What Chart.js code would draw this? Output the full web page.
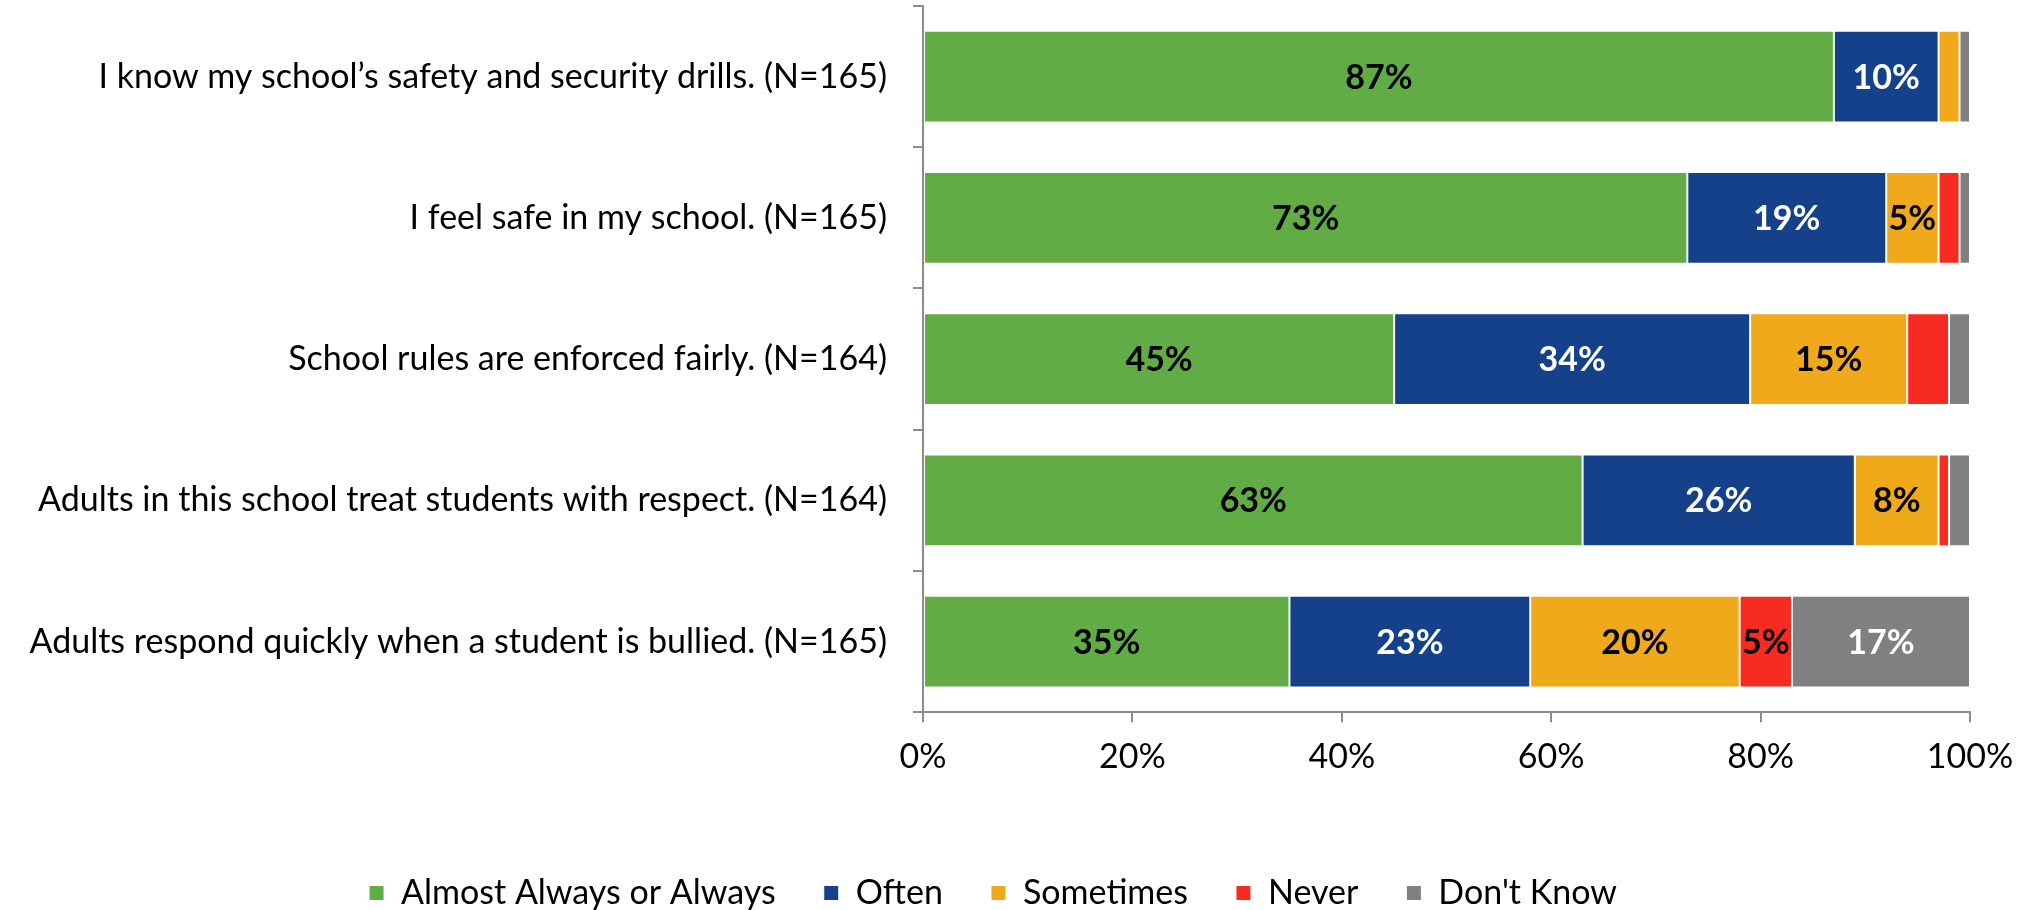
<!DOCTYPE html>
<html>
<head>
<meta charset="utf-8">
<title>School safety survey</title>
<script src="https://cdn.jsdelivr.net/npm/chart.js@4/dist/chart.umd.min.js"></script>
<style>
    html, body { margin: 0; padding: 0; background: #ffffff; }
    #chartWrap { width: 2030px; height: 910px; }
</style>
</head>
<body>
<div id="chartWrap">
    <canvas id="safetyChart" width="2030" height="910"></canvas>
</div>
<script>
const statements = [
    'I know my school\u2019s safety and security drills. (N=165)',
    'I feel safe in my school. (N=165)',
    'School rules are enforced fairly. (N=164)',
    'Adults in this school treat students with respect. (N=164)',
    'Adults respond quickly when a student is bullied. (N=165)'
];
const responseNames = ['Almost Always or Always', 'Often', 'Sometimes', 'Never', 'Don\'t Know'];
const almostAlways = [87, 73, 45, 63, 35];
const often = [10, 19, 34, 26, 23];
const sometimes = [2, 5, 15, 8, 20];
const never = [0, 2, 4, 1, 5];
const dontKnow = [1, 1, 2, 2, 17];
const percentTicks = [0, 20, 40, 60, 80, 100];

const fillColors = ['#62ac46', '#14418a', '#f1a91c', '#f72b21', '#808080'];
const labelColors = ['#000000', '#ffffff', '#000000', '#000000', '#ffffff'];
const seriesValues = [almostAlways, often, sometimes, never, dontKnow];

const FONT = "Lato, 'Open Sans', sans-serif";
const TEXT_SIZE = 34;
const AXIS_GREY = '#8c8c8c';
const PAD_LEFT = 16;
const PLOT_LEFT = 923;
const AXIS_GAP_BELOW = 37; // empty band between the % ticks and the legend

// writes the percentage in the middle of every segment that is wide enough
const segmentLabels = {
    id: 'segmentLabels',
    afterDatasetsDraw(chart) {
        const ctx = chart.ctx;
        ctx.save();
        ctx.font = 'bold ' + TEXT_SIZE + 'px ' + FONT;
        ctx.textAlign = 'center';
        ctx.textBaseline = 'middle';
        chart.data.datasets.forEach(function (ds, di) {
            const meta = chart.getDatasetMeta(di);
            meta.data.forEach(function (bar, i) {
                const v = ds.data[i];
                if (v < 5) {
                    return;
                }
                ctx.fillStyle = labelColors[di];
                ctx.fillText(v + '%', (bar.x + bar.base) / 2, bar.y + 1);
            });
        });
        ctx.restore();
    }
};

Chart.defaults.font.family = FONT;
Chart.defaults.color = '#000000';

new Chart(document.getElementById('safetyChart'), {
    type: 'bar',
    data: {
        labels: statements,
        datasets: responseNames.map(function (name, i) {
            return {
                label: name,
                data: seriesValues[i],
                backgroundColor: fillColors[i],
                borderColor: '#ffffff',
                borderWidth: 1,
                borderSkipped: false,
                categoryPercentage: 1,
                barPercentage: 0.65
            };
        })
    },
    plugins: [segmentLabels],
    options: {
        responsive: false,
        animation: false,
        devicePixelRatio: 1,
        indexAxis: 'y',
        layout: {
            // the legend keeps 10px under itself, pull it down to the edge
            padding: { left: PAD_LEFT, right: 60, top: 6, bottom: -10 }
        },
        scales: {
            x: {
                stacked: true,
                min: 0,
                max: 100,
                afterBuildTicks: function (scale) {
                    scale.ticks = percentTicks.map(function (v) { return { value: v }; });
                },
                afterFit: function (scale) {
                    scale.height = scale.height + AXIS_GAP_BELOW;
                },
                ticks: {
                    font: { size: TEXT_SIZE },
                    color: '#000000',
                    padding: 14,
                    callback: function (v) { return v + '%'; }
                },
                grid: {
                    drawOnChartArea: false,
                    drawTicks: true,
                    tickLength: 10,
                    color: AXIS_GREY,
                    lineWidth: 2
                },
                border: { color: AXIS_GREY, width: 2 }
            },
            y: {
                stacked: true,
                afterFit: function (scale) {
                    scale.width = PLOT_LEFT - PAD_LEFT;
                    scale.paddingTop = 0;
                    scale.paddingBottom = 0;
                },
                ticks: {
                    font: { size: TEXT_SIZE },
                    color: '#000000',
                    padding: 26
                },
                grid: {
                    offset: true,
                    drawOnChartArea: false,
                    drawTicks: true,
                    tickLength: 10,
                    color: AXIS_GREY,
                    lineWidth: 2
                },
                border: { color: AXIS_GREY, width: 2 }
            }
        },
        plugins: {
            legend: {
                position: 'bottom',
                labels: {
                    boxWidth: 15,
                    boxHeight: 15,
                    padding: 48,
                    color: '#000000',
                    font: { size: TEXT_SIZE }
                }
            },
            tooltip: { enabled: false }
        }
    }
});
</script>
</body>
</html>
